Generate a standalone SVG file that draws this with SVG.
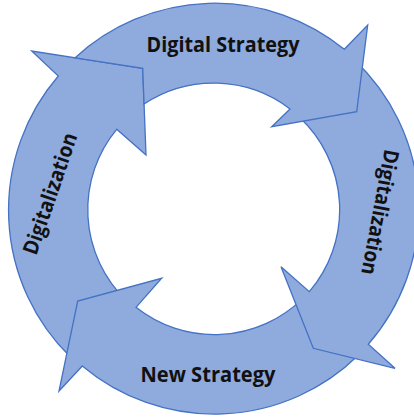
<svg xmlns="http://www.w3.org/2000/svg" width="414" height="417" viewBox="0 0 414 417">
  <style>
    .arrow { fill: #8FAADC; stroke: #4472C4; stroke-width: 1.3; stroke-linejoin: miter; }
    .label { font-family: "Open Sans", "Liberation Sans", sans-serif; font-weight: 700; font-size: 21px; fill: #111111; text-anchor: middle; }
  </style>
  <rect width="414" height="417" fill="#ffffff"/>
  <!-- Four circular arrows around a ring (centre ~213.5,209.5; R 205.5, r 126).
       Each head sits over the tail of the next arrow, so they are drawn
       left, bottom, right, top; the top arrow's tail is cut along the left head. -->
  <g id="connectors">
    <g id="arrow-left">
      <path class="arrow" d="M70.7,357.3 A205.5,205.5 0 0 1 58.3,76 L31.7,51 L142.7,68.3 L146,155 L116.7,129.3 A126,126 0 0 0 126,300.1 Z"/>
    </g>
    <g id="arrow-bottom">
      <path class="arrow" d="M358.8,354.8 A205.5,205.5 0 0 1 82.3,366 L59,391 L77.7,301 L161.7,278.3 L136,307.3 A126,126 0 0 0 302.6,298.6 Z"/>
    </g>
    <g id="arrow-right">
      <path class="arrow" d="M353.7,59.2 A205.5,205.5 0 0 1 368.3,344.3 L395,368.3 L313.3,348.3 L281,266.7 L309.3,291.7 A126,126 0 0 0 299.4,117.3 Z"/>
    </g>
    <g id="arrow-top">
      <path class="arrow" d="M75.15,57.77 A205.5,205.5 0 0 1 344.3,49.3 L367.7,25 L356.7,111.7 L271.7,126.7 L290,109 A126,126 0 0 0 144.06,104.03 L142.7,68.3 Z"/>
    </g>
  </g>
  <g id="node-digital-strategy">
    <text class="label" x="223" y="51.5" textLength="153" lengthAdjust="spacingAndGlyphs">Digital Strategy</text>
  </g>
  <g id="node-digitalization-right">
    <text class="label" transform="translate(373,211) rotate(100.6)" x="0" y="0" textLength="127" lengthAdjust="spacingAndGlyphs">Digitalization</text>
  </g>
  <g id="node-new-strategy">
    <text class="label" x="208" y="381.5" textLength="135" lengthAdjust="spacingAndGlyphs">New Strategy</text>
  </g>
  <g id="node-digitalization-left">
    <text class="label" transform="translate(57,196) rotate(-71)" x="0" y="0" textLength="127" lengthAdjust="spacingAndGlyphs">Digitalization</text>
  </g>
</svg>
